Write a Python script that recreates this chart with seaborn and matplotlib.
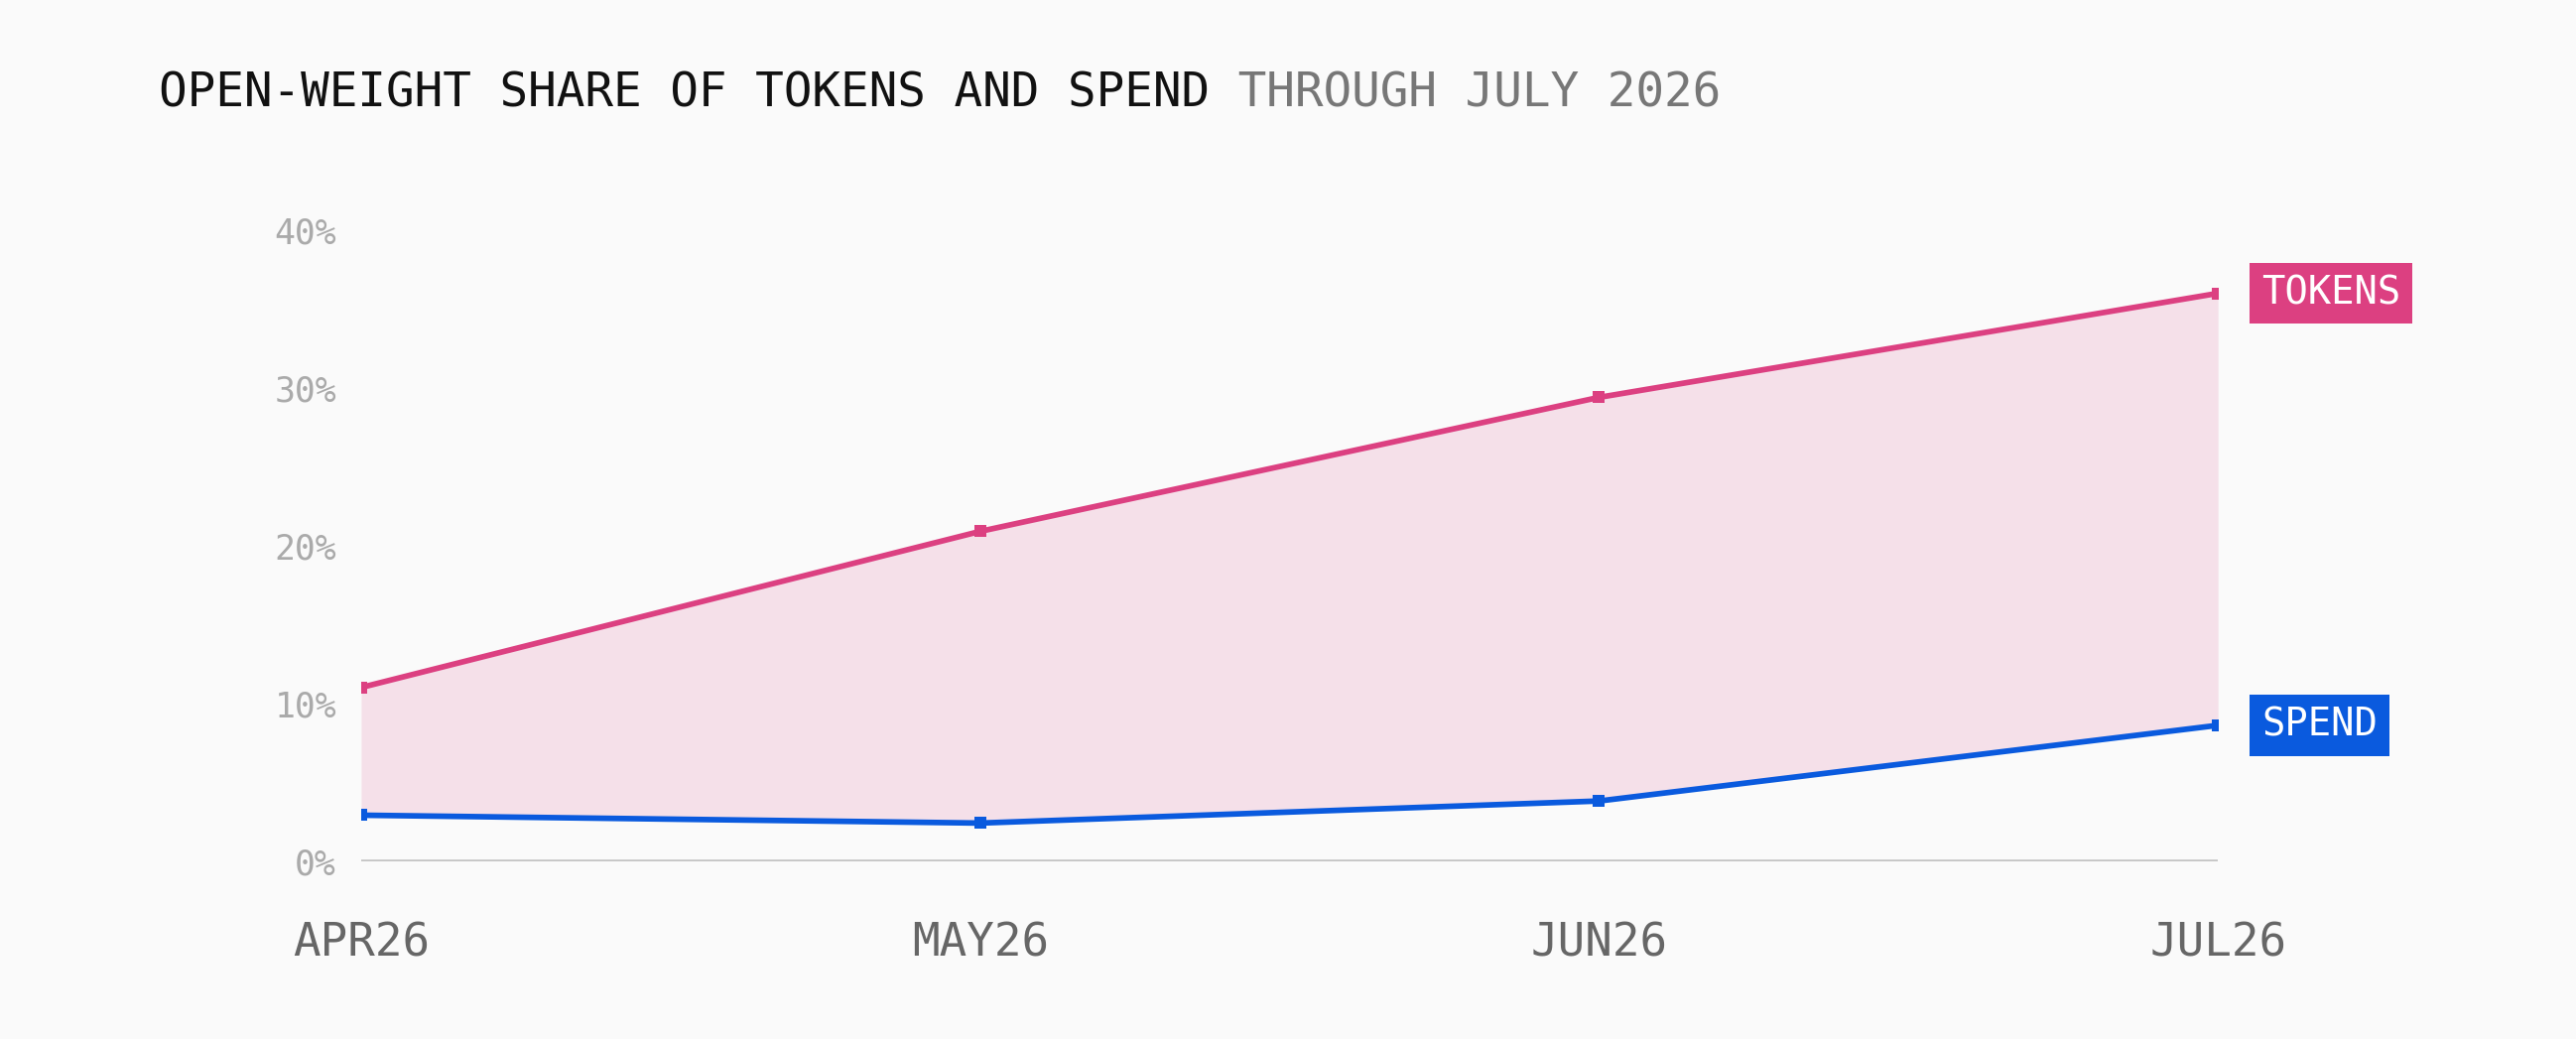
import matplotlib
matplotlib.use("Agg")
import matplotlib.pyplot as plt
import seaborn as sns
import pandas as pd

# data
months = ["APR26", "MAY26", "JUN26", "JUL26"]
tokens_share = [11.0, 20.9, 29.4, 36.0]
spend_share = [2.9, 2.4, 3.8, 8.6]
y_ticks = [0, 10, 20, 30, 40]
y_tick_labels = ["0%", "10%", "20%", "30%", "40%"]

BG = "#fafafa"
PINK = "#dc4081"
BLUE = "#0a5ade"
FILL = "#f5e0e9"

sns.set_theme(style="white")
plt.rcParams["font.family"] = ["DejaVu Sans Mono", "DejaVu Sans"]

df = pd.DataFrame({
    "pos": list(range(len(months))) * 2,
    "share": tokens_share + spend_share,
    "series": ["TOKENS"] * len(months) + ["SPEND"] * len(months),
})

fig = plt.figure(figsize=(25.96, 10.47), dpi=100, facecolor=BG)
ax = fig.add_axes([0.1402, 0.1714, 0.861 - 0.1402, 0.7784 - 0.1714])
ax.set_facecolor(BG)

x = list(range(len(months)))
ax.fill_between(x, spend_share, tokens_share, color=FILL, linewidth=0, zorder=1)
ax.axhline(0, color="#c4c4c4", linewidth=2.6, zorder=1)

sns.lineplot(data=df, x="pos", y="share", hue="series",
             palette={"TOKENS": PINK, "SPEND": BLUE},
             marker="s", markersize=8.5, markeredgewidth=0,
             linewidth=4.1, legend=False, ax=ax, zorder=3)

ax.set_xlim(0, len(months) - 1)
ax.set_ylim(0, 40)
ax.set_xticks(x)
ax.set_xticklabels(months, fontsize=33, color="#666666")
ax.set_yticks(y_ticks)
ax.set_yticklabels(y_tick_labels, fontsize=25, color="#aaaaaa")
ax.tick_params(axis="x", length=0, pad=44)
ax.tick_params(axis="y", length=0, pad=18)
ax.set_xlabel("")
ax.set_ylabel("")
ax.grid(False)
sns.despine(ax=ax, left=True, bottom=True)

# end labels
for name, vals, col in [("TOKENS", tokens_share, PINK), ("SPEND", spend_share, BLUE)]:
    ax.annotate(name, xy=(x[-1], vals[-1]), xytext=(44, 0), textcoords="offset pixels",
                ha="left", va="center", fontsize=28, color="white",
                bbox=dict(boxstyle="square,pad=0.3", facecolor=col, edgecolor="none"),
                annotation_clip=False)

# title
t1 = fig.text(160 / 2596, 1 - 94 / 1047, "OPEN-WEIGHT SHARE OF TOKENS AND SPEND",
              fontsize=34.3, color="#111111", ha="left", va="center")
fig.canvas.draw()
ax.annotate(" THROUGH JULY 2026", xy=(1, 0.5), xycoords=t1, ha="left", va="center",
            fontsize=34.3, color="#777777", annotation_clip=False)

fig.savefig("out.png", dpi=100, facecolor=BG)
